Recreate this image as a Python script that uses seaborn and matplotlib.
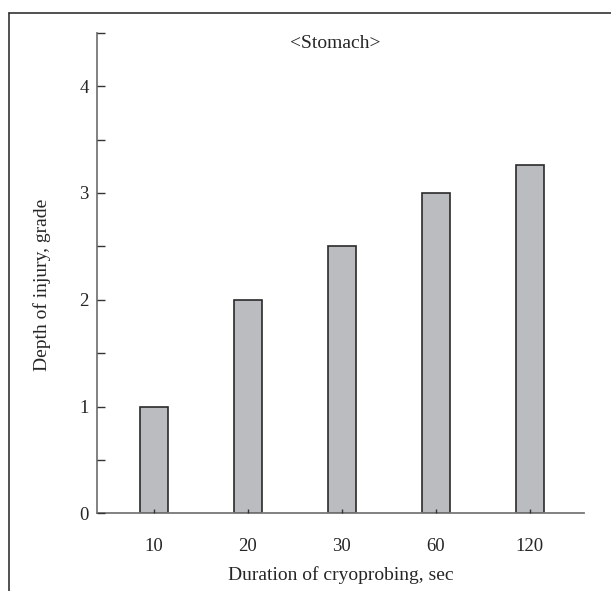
import matplotlib
matplotlib.use("Agg")
import matplotlib.pyplot as plt
from matplotlib.lines import Line2D
from matplotlib.ticker import MultipleLocator
import seaborn as sns
import pandas as pd

durations = ["10", "20", "30", "60", "120"]
depth = [1.0, 2.0, 2.5, 3.0, 3.26]
yticks = [0, 1, 2, 3, 4]

sns.set_style("ticks")
plt.rcParams["font.family"] = ["Liberation Serif", "DejaVu Serif"]

df = pd.DataFrame({"duration": durations, "depth": depth})

fig = plt.figure(figsize=(6.11, 5.91), dpi=100)
ax = fig.add_axes([97 / 611, 1 - 513.4 / 591, (584 - 97) / 611, (513.4 - 32.7) / 591])

sns.barplot(data=df, x="duration", y="depth", order=durations, ax=ax,
            color="#bbbcc0", saturation=1, width=0.3,
            edgecolor="#2a2a2a", linewidth=1.2, zorder=2)

ax.set_xlim(-0.607, 4.578)
ax.set_ylim(0, 4.5)
ax.set_yticks(yticks)
ax.set_yticklabels([str(v) for v in yticks])
ax.yaxis.set_minor_locator(MultipleLocator(0.5))
ax.tick_params(axis="y", which="both", direction="in", length=6, width=1,
               color="#333333", labelsize=13.5, pad=6)
ax.tick_params(axis="x", which="major", direction="in", length=3, width=1,
               color="#333333", labelsize=13.5, pad=17.5)
ax.set_axisbelow(False)

for s in ["top", "right"]:
    ax.spines[s].set_visible(False)
for s in ["left", "bottom"]:
    ax.spines[s].set_color("#777777")
    ax.spines[s].set_linewidth(1.3)

ax.set_xlabel("Duration of cryoprobing, sec", fontsize=14, labelpad=8.5)
ax.set_ylabel("Depth of injury, grade", fontsize=14)
ax.yaxis.set_label_coords(-0.095, 0.475)
ax.text(0.49, 0.978, "<Stomach>", transform=ax.transAxes, ha="center",
        va="center", fontsize=14)

# outer frame (top and left only)
fig.add_artist(Line2D([8.5 / 611, 8.5 / 611], [0, 1 - 12.5 / 591],
                      transform=fig.transFigure, color="#333333", lw=1.2))
fig.add_artist(Line2D([8.5 / 611, 1], [1 - 12.5 / 591, 1 - 12.5 / 591],
                      transform=fig.transFigure, color="#333333", lw=1.2))

fig.savefig("out.png", dpi=100)
